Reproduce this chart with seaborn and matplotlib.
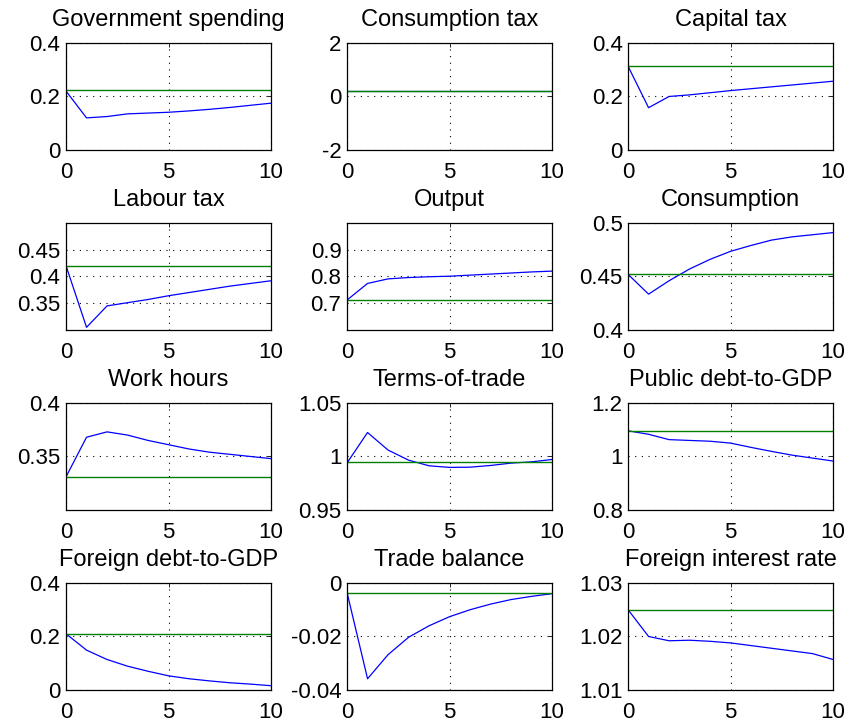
import numpy as np
import pandas as pd
import matplotlib
matplotlib.use("Agg")
import matplotlib.pyplot as plt
import seaborn as sns

periods = list(range(11))

titles = ["Government spending", "Consumption tax", "Capital tax",
          "Labour tax", "Output", "Consumption",
          "Work hours", "Terms-of-trade", "Public debt-to-GDP",
          "Foreign debt-to-GDP", "Trade balance", "Foreign interest rate"]

gov_spending = [0.22, 0.12, 0.125, 0.135, 0.138, 0.141, 0.146, 0.152, 0.159, 0.167, 0.175]
consumption_tax = [0.2, 0.2, 0.2, 0.2, 0.2, 0.2, 0.2, 0.2, 0.2, 0.2, 0.2]
capital_tax = [0.313, 0.158, 0.2, 0.206, 0.214, 0.222, 0.229, 0.236, 0.243, 0.25, 0.257]
labour_tax = [0.42, 0.305, 0.345, 0.351, 0.357, 0.364, 0.370, 0.376, 0.382, 0.387, 0.392]
output = [0.712, 0.774, 0.791, 0.796, 0.799, 0.801, 0.805, 0.809, 0.813, 0.817, 0.82]
consumption = [0.452, 0.4335, 0.446, 0.457, 0.466, 0.4735, 0.479, 0.484, 0.487, 0.489, 0.491]
work_hours = [0.331, 0.368, 0.373, 0.370, 0.365, 0.361, 0.357, 0.354, 0.352, 0.350, 0.348]
terms_of_trade = [0.994, 1.0224, 1.006, 0.9966, 0.9913, 0.9898, 0.990, 0.9916, 0.9938, 0.995, 0.9972]
public_debt = [1.096, 1.083, 1.063, 1.060, 1.057, 1.05, 1.034, 1.019, 1.005, 0.994, 0.983]
foreign_debt = [0.21, 0.149, 0.114, 0.089, 0.07, 0.053, 0.042, 0.034, 0.027, 0.022, 0.016]
trade_balance = [-0.0036, -0.0358, -0.0268, -0.0203, -0.016, -0.0126, -0.010, -0.0079, -0.0062, -0.005, -0.004]
foreign_rate = [1.025, 1.020, 1.0192, 1.0193, 1.0191, 1.0188, 1.0183, 1.0178, 1.0173, 1.0168, 1.0157]

steady_states = [0.224, 0.2, 0.313, 0.42, 0.712, 0.452, 0.331, 0.9944, 1.0957, 0.21, -0.0036, 1.0249]

series = [gov_spending, consumption_tax, capital_tax, labour_tax, output, consumption,
          work_hours, terms_of_trade, public_debt, foreign_debt, trade_balance, foreign_rate]

ylims = [(0, 0.4), (-2, 2), (0, 0.4), (0.3, 0.5), (0.6, 1.0), (0.4, 0.5),
         (0.3, 0.4), (0.95, 1.05), (0.8, 1.2), (0, 0.4), (-0.04, 0), (1.01, 1.03)]
yticks = [[0, 0.2, 0.4], [-2, 0, 2], [0, 0.2, 0.4], [0.35, 0.4, 0.45], [0.7, 0.8, 0.9],
          [0.4, 0.45, 0.5], [0.35, 0.4], [0.95, 1, 1.05], [0.8, 1, 1.2], [0, 0.2, 0.4],
          [-0.04, -0.02, 0], [1.01, 1.02, 1.03]]
yticklabels = [["0", "0.2", "0.4"], ["-2", "0", "2"], ["0", "0.2", "0.4"],
               ["0.35", "0.4", "0.45"], ["0.7", "0.8", "0.9"], ["0.4", "0.45", "0.5"],
               ["0.35", "0.4"], ["0.95", "1", "1.05"], ["0.8", "1", "1.2"],
               ["0", "0.2", "0.4"], ["-0.04", "-0.02", "0"], ["1.01", "1.02", "1.03"]]
xticks = [0, 5, 10]

sns.set_theme(style="white")
plt.rcParams["font.family"] = ["Liberation Sans", "DejaVu Sans"]
plt.rcParams["text.color"] = "black"
plt.rcParams["axes.titlecolor"] = "black"

fig, axes = plt.subplots(4, 3, figsize=(8.51, 7.27), dpi=100)
fig.subplots_adjust(left=0.0776, right=0.9789, top=0.9409, bottom=0.0509,
                    wspace=0.371, hspace=0.682)

for i, ax in enumerate(axes.flat):
    df = pd.DataFrame({"t": periods, "value": series[i],
                       "steady": [steady_states[i]] * len(periods)})
    sns.lineplot(data=df, x="t", y="value", ax=ax, color=(0, 0, 1), linewidth=0.9)
    sns.lineplot(data=df, x="t", y="steady", ax=ax, color=(0, 0.5, 0), linewidth=1.0)
    ax.set_xlim(0, 10)
    ax.set_ylim(*ylims[i])
    ax.set_xticks(xticks)
    ax.set_xticklabels([str(x) for x in xticks])
    ax.set_yticks(yticks[i])
    ax.set_yticklabels(yticklabels[i])
    ax.set_xlabel("")
    ax.set_ylabel("")
    ax.set_title(titles[i], fontsize=17, pad=12, color="black")
    ax.grid(True, color="black", linestyle=(0, (1, 5)), linewidth=0.8)
    ax.tick_params(axis="both", which="both", labelsize=16, direction="in",
                   length=3, width=0.6, colors="black", top=True, right=True)
    ax.tick_params(axis="x", pad=9)
    ax.tick_params(axis="y", pad=4)
    for sp in ax.spines.values():
        sp.set_color("black")
        sp.set_linewidth(0.9)
    ax.set_facecolor("white")

fig.savefig("out.png", dpi=100, facecolor="white")
